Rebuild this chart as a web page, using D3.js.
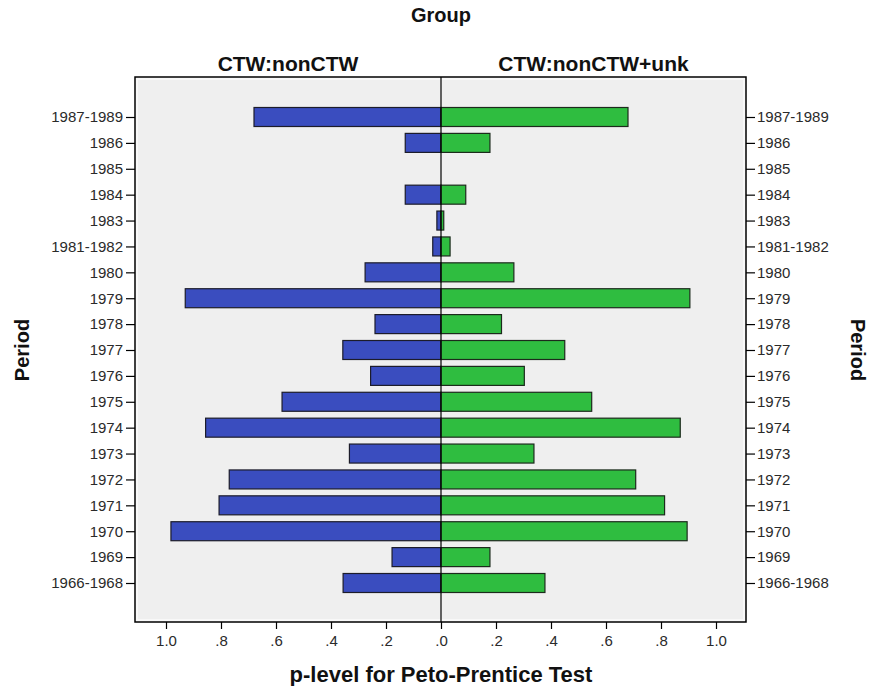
<!DOCTYPE html>
<html>
<head>
<meta charset="utf-8">
<script src="https://cdn.jsdelivr.net/npm/d3@7"></script>
<style>
  html, body { margin: 0; padding: 0; background: #ffffff; }
  svg { display: block; font-family: "Liberation Sans", Arial, sans-serif; }
</style>
</head>
<body>
<svg id="chart" width="870" height="686"></svg>
<script>
// ---- data ----
const periods = ["1987-1989","1986","1985","1984","1983","1981-1982","1980","1979","1978","1977","1976","1975","1974","1973","1972","1971","1970","1969","1966-1968"];
const groups = ["CTW:nonCTW", "CTW:nonCTW+unk"];
const nonCTW =    [0.68,0.13,0,0.13,0.015,0.03,0.276,0.93,0.24,0.357,0.256,0.578,0.856,0.333,0.77,0.807,0.982,0.178,0.356];
const nonCTWunk = [0.68,0.178,0,0.09,0.01,0.033,0.265,0.905,0.22,0.45,0.303,0.548,0.87,0.338,0.708,0.813,0.895,0.178,0.378];
const xTicksLeft = [1.0, 0.8, 0.6, 0.4, 0.2, 0.0];
const xTicksRight = [0.2, 0.4, 0.6, 0.8, 1.0];

// ---- layout ----
const frame = { left: 135, right: 746, top: 77, bottom: 622 };
const center = 441, unit = 275;
const blue = "#3a4dbf", green = "#2fbd40";

const svg = d3.select("#chart");

const xL = d3.scaleLinear().domain([0, 1]).range([center, center - unit]);
const xR = d3.scaleLinear().domain([0, 1]).range([center, center + unit]);
const y = d3.scalePoint().domain(periods).range([117, 583]);
const barH = 19;
const fmt = d => { const s = d3.format(".1f")(d); return s.startsWith("0") ? s.slice(1) : s; };

// plot background
svg.append("rect")
  .attr("x", frame.left).attr("y", frame.top)
  .attr("width", frame.right - frame.left).attr("height", frame.bottom - frame.top)
  .attr("fill", "#efefef");
svg.append("rect")
  .attr("x", frame.left + 1.5).attr("y", frame.top + 1.5)
  .attr("width", frame.right - frame.left - 3).attr("height", frame.bottom - frame.top - 3)
  .attr("fill", "none").attr("stroke", "#f8f8f8").attr("stroke-width", 3);

// bars
const leftData = periods.map((p, i) => ({ p, v: nonCTW[i] })).filter(d => d.v > 0);
const rightData = periods.map((p, i) => ({ p, v: nonCTWunk[i] })).filter(d => d.v > 0);

svg.append("g").selectAll("rect").data(leftData).join("rect")
  .attr("x", d => xL(d.v)).attr("y", d => y(d.p) - barH / 2)
  .attr("width", d => xL(0) - xL(d.v)).attr("height", barH)
  .attr("fill", blue).attr("stroke", "#1c1c2a").attr("stroke-width", 1.2);

svg.append("g").selectAll("rect").data(rightData).join("rect")
  .attr("x", xR(0)).attr("y", d => y(d.p) - barH / 2)
  .attr("width", d => xR(d.v) - xR(0)).attr("height", barH)
  .attr("fill", green).attr("stroke", "#1c2a1c").attr("stroke-width", 1.2);

// center line
svg.append("line")
  .attr("x1", center).attr("x2", center)
  .attr("y1", frame.top).attr("y2", frame.bottom)
  .attr("stroke", "#000").attr("stroke-width", 1.2);

// frame
svg.append("rect")
  .attr("x", frame.left).attr("y", frame.top)
  .attr("width", frame.right - frame.left).attr("height", frame.bottom - frame.top)
  .attr("fill", "none").attr("stroke", "#000").attr("stroke-width", 1.5);

// y axes
const styleAxis = g => {
  g.select(".domain").remove();
  g.selectAll(".tick line").attr("stroke", "#000").attr("stroke-width", 1.2);
  g.selectAll(".tick text").attr("fill", "#2a2a2a").attr("font-size", 15)
    .attr("font-family", "'Liberation Sans', Arial, sans-serif");
};
svg.append("g").attr("transform", `translate(${frame.left},0)`)
  .call(d3.axisLeft(y).tickSize(9).tickPadding(3)).call(styleAxis);
svg.append("g").attr("transform", `translate(${frame.right},0)`)
  .call(d3.axisRight(y).tickSize(9).tickPadding(2)).call(styleAxis);

// x axes
svg.append("g").attr("transform", `translate(0,${frame.bottom})`)
  .call(d3.axisBottom(xL).tickValues(xTicksLeft).tickFormat(fmt).tickSize(7).tickPadding(6)).call(styleAxis);
svg.append("g").attr("transform", `translate(0,${frame.bottom})`)
  .call(d3.axisBottom(xR).tickValues(xTicksRight).tickFormat(fmt).tickSize(7).tickPadding(6)).call(styleAxis);

// titles
const title = (txt, x, yy, size, rot) => {
  const t = svg.append("text").text(txt)
    .attr("font-weight", "bold").attr("font-size", size).attr("fill", "#111")
    .attr("text-anchor", "middle");
  if (rot) t.attr("transform", `translate(${x},${yy}) rotate(${rot})`);
  else t.attr("x", x).attr("y", yy);
  return t;
};
title("Group", center, 22, 20);
title(groups[0], (frame.left + center) / 2, 71, 21);
title(groups[1], (center + frame.right) / 2, 71, 21);
title("p-level for Peto-Prentice Test", center, 682, 22);
title("Period", 29, 350, 20, -90);
title("Period", 851, 350, 20, 90);
</script>
</body>
</html>
